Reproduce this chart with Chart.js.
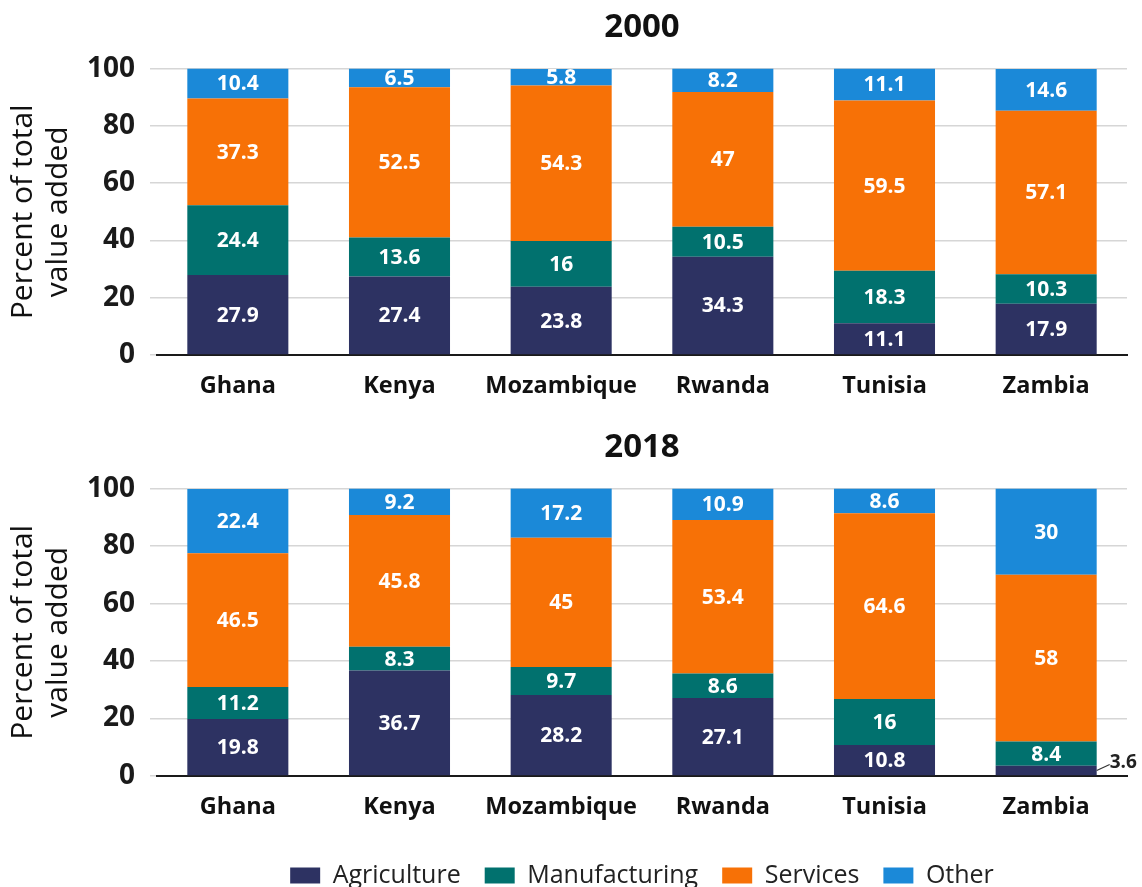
<!DOCTYPE html>
<html>
<head>
<meta charset="utf-8">
<script src="https://cdn.jsdelivr.net/npm/chart.js@4.4.1/dist/chart.umd.min.js"></script>
<style>
  html, body { margin: 0; padding: 0; background: #ffffff; }
  body { width: 1142px; height: 887px; position: relative; overflow: hidden; }
  .box { position: absolute; left: 0; width: 1142px; }
  #b1 { top: 0; height: 420px; }
  #b2 { top: 420px; height: 467px; }
</style>
</head>
<body>
<div class="box" id="b1"><canvas id="c1"></canvas></div>
<div class="box" id="b2"><canvas id="c2"></canvas></div>
<script>
const countries = ["Ghana", "Kenya", "Mozambique", "Rwanda", "Tunisia", "Zambia"];
const seriesNames = ["Agriculture", "Manufacturing", "Services", "Other"];
const yTicks = [0, 20, 40, 60, 80, 100];
const panelTitles = ["2000", "2018"];

const agriculture2000   = [27.9, 27.4, 23.8, 34.3, 11.1, 17.9];
const manufacturing2000 = [24.4, 13.6, 16, 10.5, 18.3, 10.3];
const services2000      = [37.3, 52.5, 54.3, 47, 59.5, 57.1];
const other2000         = [10.4, 6.5, 5.8, 8.2, 11.1, 14.6];

const agriculture2018   = [19.8, 36.7, 28.2, 27.1, 10.8, 3.6];
const manufacturing2018 = [11.2, 8.3, 9.7, 8.6, 16, 8.4];
const services2018      = [46.5, 45.8, 45, 53.4, 64.6, 58];
const other2018         = [22.4, 9.2, 17.2, 10.9, 8.6, 30];

const colors = ["#2d3262", "#01716e", "#f77106", "#1b89d8"];
const FONT = "'Open Sans', 'Noto Sans', sans-serif";

const labelPlugin = {
  id: 'barLabels',
  afterDatasetsDraw(chart) {
    const ctx = chart.ctx;
    ctx.save();
    ctx.textBaseline = 'middle';
    chart.data.datasets.forEach((ds, di) => {
      const meta = chart.getDatasetMeta(di);
      meta.data.forEach((bar, i) => {
        const v = ds.data[i];
        const p = bar.getProps(['x', 'y', 'base', 'width'], true);
        const cy = (p.y + p.base) / 2;
        if (v < 5) {
          const rx = p.x + p.width / 2;
          ctx.strokeStyle = '#333';
          ctx.lineWidth = 1.2;
          ctx.beginPath();
          ctx.moveTo(rx, cy);
          ctx.lineTo(rx + 13, cy - 6);
          ctx.stroke();
          ctx.font = "bold 19px " + FONT;
          ctx.fillStyle = '#222';
          ctx.textAlign = 'left';
          ctx.fillText(String(v), rx + 13, cy - 8);
        } else {
          ctx.font = "bold 21px " + FONT;
          ctx.fillStyle = '#ffffff';
          ctx.textAlign = 'center';
          ctx.fillText(String(v), p.x, cy + 1);
        }
      });
    });
    ctx.restore();
  }
};

function makeChart(canvasId, title, seriesData, showLegend) {
  return new Chart(document.getElementById(canvasId), {
    type: 'bar',
    data: {
      labels: countries,
      datasets: seriesNames.map((name, k) => ({
        label: name,
        data: seriesData[k],
        backgroundColor: colors[k],
        borderWidth: 0,
        barPercentage: 0.625,
        categoryPercentage: 1.0
      }))
    },
    options: {
      responsive: true,
      maintainAspectRatio: false,
      animation: false,
      layout: { padding: { left: 0, right: 15, top: 0, bottom: showLegend ? -11 : 0 } },
      plugins: {
        title: {
          display: true,
          fullSize: false,
          text: title,
          color: '#111',
          font: { family: FONT, size: 33, weight: 'bold' },
          padding: { top: 8, bottom: 21 }
        },
        legend: {
          display: showLegend,
          fullSize: false,
          position: 'bottom',
          labels: {
            color: '#222',
            boxWidth: 30,
            boxHeight: 16,
            padding: 24,
            font: { family: FONT, size: 25 }
          }
        },
        tooltip: { enabled: false }
      },
      scales: {
        x: {
          stacked: true,
          grid: { display: false, drawTicks: false },
          border: { display: true, color: '#1a1a1a', width: 2 },
          ticks: {
            color: '#111',
            padding: 17,
            font: { family: FONT, size: 23.5, weight: 'bold' },
            maxRotation: 0
          },
          afterFit(scale) { scale.height = showLegend ? 63 : 65; }
        },
        y: {
          stacked: true,
          min: 0,
          max: 100,
          afterBuildTicks(scale) { scale.ticks = yTicks.map(v => ({ value: v })); },
          grid: { color: '#d6d6d6', lineWidth: 1.5, drawTicks: true, tickLength: 7 },
          border: { display: false },
          ticks: {
            color: '#1a1a1a',
            padding: 15,
            font: { family: FONT, size: 28, weight: 'bold' }
          },
          title: {
            display: true,
            text: ['Percent of total', 'value added'],
            color: '#111',
            font: { family: FONT, size: 30, lineHeight: 1.17 },
            padding: { top: 6, bottom: 0 }
          },
          afterFit(scale) { scale.width = 157; }
        }
      }
    },
    plugins: [labelPlugin]
  });
}

makeChart('c1', panelTitles[0], [agriculture2000, manufacturing2000, services2000, other2000], false);
makeChart('c2', panelTitles[1], [agriculture2018, manufacturing2018, services2018, other2018], true);
</script>
</body>
</html>
